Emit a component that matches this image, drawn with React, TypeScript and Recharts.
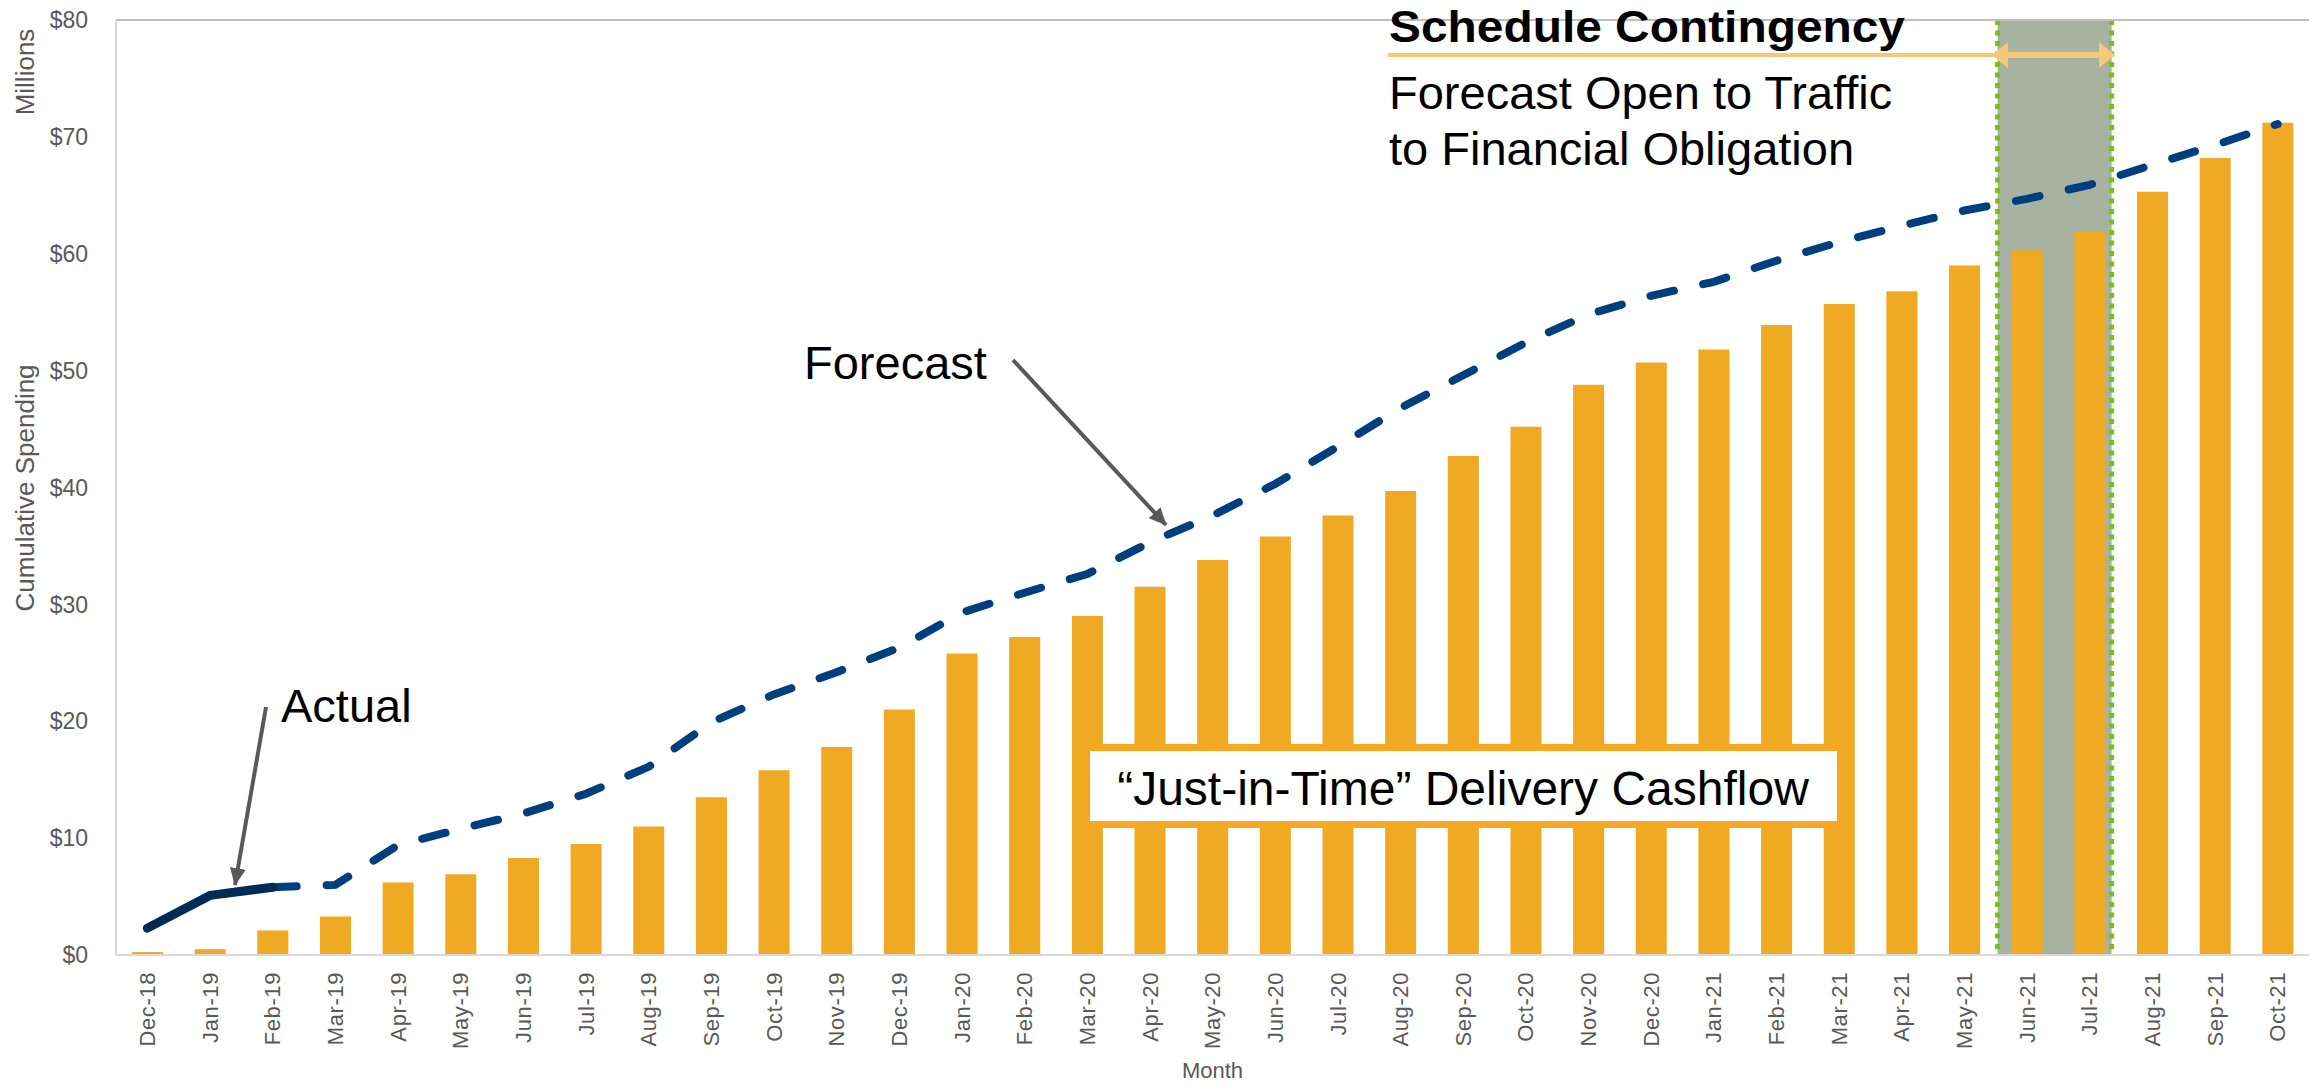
import React from 'react';
import {
  ComposedChart, Bar, Line, XAxis, YAxis, ReferenceArea, ReferenceLine,
} from 'recharts';

// Months shown on the category axis
const months = [
  'Dec-18', 'Jan-19', 'Feb-19', 'Mar-19', 'Apr-19', 'May-19', 'Jun-19', 'Jul-19', 'Aug-19',
  'Sep-19', 'Oct-19', 'Nov-19', 'Dec-19', 'Jan-20', 'Feb-20', 'Mar-20', 'Apr-20', 'May-20',
  'Jun-20', 'Jul-20', 'Aug-20', 'Sep-20', 'Oct-20', 'Nov-20', 'Dec-20', 'Jan-21', 'Feb-21',
  'Mar-21', 'Apr-21', 'May-21', 'Jun-21', 'Jul-21', 'Aug-21', 'Sep-21', 'Oct-21',
];

// "Just-in-Time" cumulative cashflow bars ($M)
const justInTime = [
  0.25, 0.5, 2.1, 3.3, 6.2, 6.9, 8.3, 9.5, 11.0, 13.5, 15.8, 17.8, 21.0, 25.8, 27.2, 29.0,
  31.5, 33.8, 35.8, 37.6, 39.7, 42.7, 45.2, 48.8, 50.7, 51.8, 53.9, 55.7, 56.8, 59.0, 60.3,
  61.9, 65.3, 68.2, 71.2,
];

// actual cumulative spending (first months only)
const actual = [2.3, 5.1, 5.8];

// forecast cumulative spending
const forecast: (number | null)[] = [
  null, null, 5.8, 6.0, 9.4, 10.8, 12.1, 13.8, 16.1, 19.9, 22.3, 24.2, 26.3, 29.3, 31.0, 32.6,
  35.3, 37.6, 40.3, 43.5, 46.8, 49.6, 52.4, 54.8, 56.4, 57.6, 59.4, 61.0, 62.4, 63.7, 64.7,
  65.9, 67.6, 69.3, 71.1,
];

const yTicks = [0, 10, 20, 30, 40, 50, 60, 70, 80];

// schedule contingency window (first and last month covered)
const contingencyFrom = 'Jun-21';
const contingencyTo = 'Jul-21';

const data = months.map((m, i) => ({
  month: m,
  jit: justInTime[i],
  actual: i < actual.length ? actual[i] : null,
  forecast: forecast[i],
}));

const FONT = '"Liberation Sans", Arial, sans-serif';
const AXIS_GREY = '#595959';
const GREEN = '#7cbf10';

// the shaded window starts at the Jun-21 slot and stops a little short of the Jul-21 slot end
const windowEdges = (p: any) => {
  const band = p.width / 2;
  return { left: p.x + band * 0.03, right: p.x + p.width - band * 0.15 };
};

const ContingencyFill = (p: any) => {
  const { left, right } = windowEdges(p);
  return <rect x={left} y={p.y} width={right - left} height={p.height} fill="#a8b2a0" />;
};

const ContingencyEdges = (p: any) => {
  const { left, right } = windowEdges(p);
  return (
    <g>
      <line x1={left} x2={left} y1={p.y} y2={p.y + p.height} stroke={GREEN} strokeWidth={5} strokeDasharray="5 5.5" />
      <line x1={right} x2={right} y1={p.y} y2={p.y + p.height} stroke={GREEN} strokeWidth={5} strokeDasharray="5 5.5" />
    </g>
  );
};

const MonthTick = (props: any) => {
  const { x, y, payload } = props;
  return (
    <text
      x={x}
      y={y}
      transform={`rotate(-90, ${x}, ${y})`}
      textAnchor="end"
      dy="0.35em"
      fill={AXIS_GREY}
      fontSize={22}
      letterSpacing={0.6}
      fontFamily={FONT}
    >
      {payload.value}
    </text>
  );
};

export default function App() {
  return (
    <div style={{ position: 'absolute', left: 0, top: 0, width: 2323, height: 1086, fontFamily: FONT, background: '#fff' }}>
      <ComposedChart
        width={2323}
        height={1086}
        data={data}
        margin={{ top: 20, right: 14, left: 0, bottom: 0 }}
      >
        <XAxis
          dataKey="month"
          height={131}
          tickSize={0}
          tickMargin={17}
          interval={0}
          tick={<MonthTick />}
          axisLine={{ stroke: '#d9d9d9', strokeWidth: 2 }}
          label={{ value: 'Month', position: 'insideBottom', offset: 8, fill: AXIS_GREY, fontSize: 22 }}
        />
        <YAxis
          width={116}
          domain={[0, 80]}
          ticks={yTicks}
          tickSize={0}
          tickMargin={28}
          tickFormatter={(v) => `$${v}`}
          tick={{ fill: AXIS_GREY, fontSize: 23 }}
          axisLine={{ stroke: '#d9d9d9', strokeWidth: 2 }}
        />
        <ReferenceArea x1={contingencyFrom} x2={contingencyTo} shape={ContingencyFill} />
        <ReferenceLine y={80} stroke="#bfbfbf" strokeWidth={2} />
        <Bar dataKey="jit" fill="#efa922" barSize={31} isAnimationActive={false} />
        <ReferenceArea x1={contingencyFrom} x2={contingencyTo} shape={ContingencyEdges} />
        <Line
          dataKey="forecast"
          stroke="#003f7d"
          strokeWidth={8}
          strokeDasharray="24 30"
          strokeLinecap="round"
          dot={false}
          connectNulls={false}
          isAnimationActive={false}
        />
        <Line
          dataKey="actual"
          stroke="#002b55"
          strokeWidth={9}
          strokeLinecap="round"
          strokeLinejoin="round"
          dot={false}
          isAnimationActive={false}
        />
      </ComposedChart>

      <svg
        width={2323}
        height={1086}
        style={{ position: 'absolute', left: 0, top: 0, pointerEvents: 'none' }}
        fontFamily={FONT}
      >
        <defs>
          <marker id="arrowHead" markerWidth={4.4} markerHeight={4} refX={4.2} refY={2} orient="auto" markerUnits="strokeWidth">
            <path d="M0,0 L4.4,2 L0,4 z" fill={AXIS_GREY} />
          </marker>
        </defs>

        {/* axis titles */}
        <text x={34} y={72} transform="rotate(-90, 34, 72)" textAnchor="middle" fontSize={26} fill={AXIS_GREY}>Millions</text>
        <text x={34} y={488} transform="rotate(-90, 34, 488)" textAnchor="middle" fontSize={26} fill={AXIS_GREY}>Cumulative Spending</text>

        {/* schedule contingency callout */}
        <text x={1389} y={42} fontSize={45} fontWeight="bold" fill="#000" textLength={516} lengthAdjust="spacingAndGlyphs">Schedule Contingency</text>
        <line x1={1388} y1={55} x2={1996} y2={55} stroke="#f5c97a" strokeWidth={4} />
        <rect x={2004} y={52} width={98} height={6} fill="#f5c97a" />
        <polygon points="1992,55 2008,42 2008,68" fill="#f5c97a" />
        <polygon points="2115,55 2099,42 2099,68" fill="#f5c97a" />
        <text x={1389} y={109} fontSize={47} fill="#000">Forecast Open to Traffic</text>
        <text x={1389} y={165} fontSize={47} fill="#000">to Financial Obligation</text>

        {/* series callouts */}
        <text x={804} y={379} fontSize={47} fill="#000">Forecast</text>
        <line x1={1013} y1={360} x2={1166} y2={525} stroke={AXIS_GREY} strokeWidth={4} markerEnd="url(#arrowHead)" />
        <text x={281} y={722} fontSize={47} fill="#000">Actual</text>
        <line x1={266} y1={707} x2={235} y2={885} stroke={AXIS_GREY} strokeWidth={4} markerEnd="url(#arrowHead)" />

        {/* bar series label */}
        <rect x={1086.5} y={747.5} width={754} height={77} fill="#fff" stroke="#f7a823" strokeWidth={7} />
        <text x={1463} y={805} textAnchor="middle" fontSize={48} fill="#000">“Just-in-Time” Delivery Cashflow</text>
      </svg>
    </div>
  );
}
